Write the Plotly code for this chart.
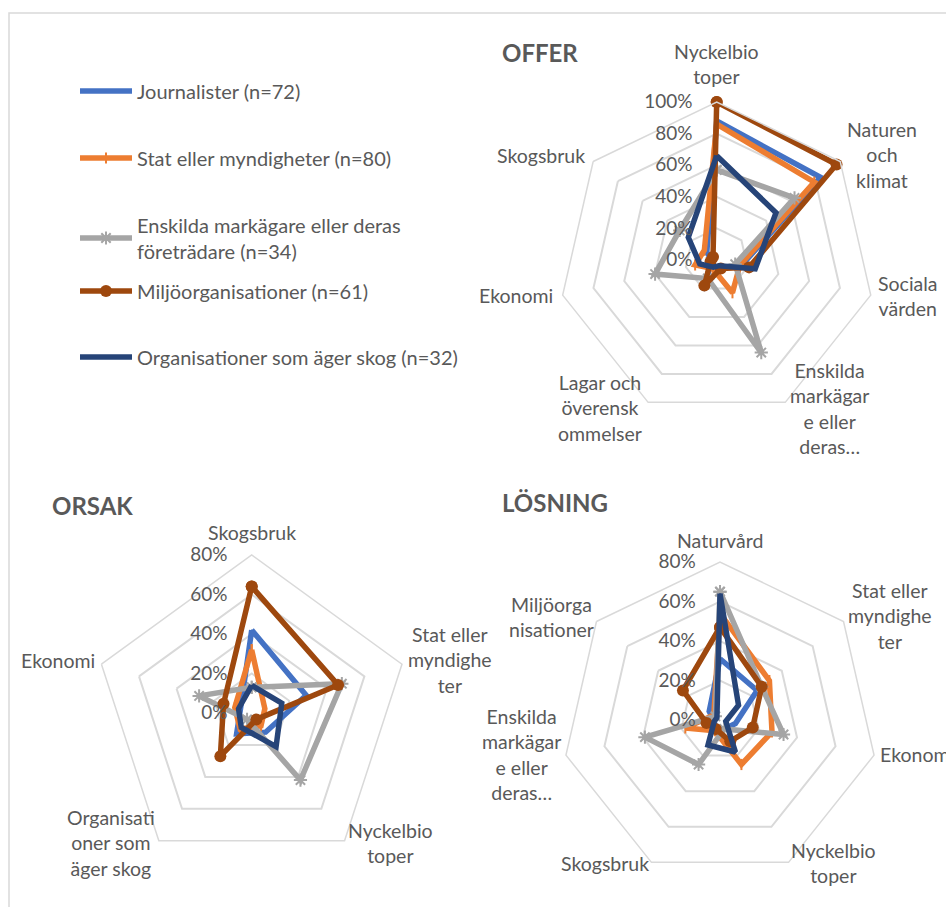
import plotly.graph_objects as go

# ---------------- data ----------------
series_names = [
    "Journalister (n=72)",
    "Stat eller myndigheter (n=80)",
    "Enskilda markägare eller deras<br>företrädare (n=34)",
    "Miljöorganisationer (n=61)",
    "Organisationer som äger skog (n=32)",
]

offer_categories = ["Nyckelbiotoper", "Naturen och klimat", "Sociala värden",
                    "Enskilda markägare eller deras…", "Lagar och överenskommelser",
                    "Ekonomi", "Skogsbruk"]
offer_labels = ["Nyckelbio<br>toper", "Naturen<br>och<br>klimat", "Sociala<br>värden",
                "Enskilda<br>markägar<br>e eller<br>deras…", "Lagar och<br>överensk<br>ommelser",
                "Ekonomi", "Skogsbruk"]
offer_journalister = [88, 84, 16, 5, 21, 3, 8]
offer_stat = [86, 79, 15, 23, 6, 14, 10]
offer_enskilda = [57, 63, 12, 65, 13, 40, 30]
offer_miljo = [100, 97, 21, 6, 18, 4, 3]
offer_org = [66, 48, 25, 4, 5, 11, 23]

orsak_categories = ["Skogsbruk", "Stat eller myndigheter", "Nyckelbiotoper",
                    "Organisationer som äger skog", "Ekonomi"]
orsak_labels = ["Skogsbruk", "Stat eller<br>myndighe<br>ter", "Nyckelbio<br>toper",
                "Organisati<br>oner som<br>äger skog", "Ekonomi"]
orsak_journalister = [42, 29, 12, 13, 6]
orsak_stat = [32, 7, 8, 10, 9]
orsak_enskilda = [13, 48, 42, 4, 28]
orsak_miljo = [64, 46, 4, 27, 15]
orsak_org = [14, 16, 21, 9, 7]

losning_categories = ["Naturvård", "Stat eller myndigheter", "Ekonomi", "Nyckelbiotoper",
                      "Skogsbruk", "Enskilda markägare eller deras…", "Miljöorganisationer"]
losning_labels = ["Naturvård", "Stat eller<br>myndighe<br>ter", "Ekonomi", "Nyckelbio<br>toper",
                  "Skogsbruk", "Enskilda<br>markägar<br>e eller<br>deras…", "Miljöorga<br>nisationer"]
losning_journalister = [31, 24, 8, 5, 5, 3, 7]
losning_stat = [54, 32, 27, 25, 6, 18, 4]
losning_enskilda = [65, 27, 33, 5, 25, 39, 3]
losning_miljo = [47, 27, 17, 12, 5, 7, 24]
losning_org = [64, 12, 3, 18, 14, 3, 2]

# ---------------- layout / styles ----------------
W, H = 946, 907
FONT = "Lato"
TXT = "#595959"
GRID = "#D9D9D9"
colors = ["#4472C4", "#ED7D31", "#A5A5A5", "#9E480E", "#264478"]
markers = [
    dict(size=1, symbol="circle"),
    dict(size=8, symbol="line-ns", line=dict(width=2, color="#ED7D31")),
    dict(size=11, symbol="asterisk", line=dict(width=2, color="#A5A5A5")),
    dict(size=12, symbol="circle"),
    dict(size=1, symbol="circle"),
]

# pixel centres of the category-label blocks around each radar
offer_label_pos = [(716, 64), (882, 155), (908, 296), (829, 408), (600, 408), (516, 295), (541, 155)]
orsak_label_pos = [(251.5, 532), (450, 660), (390, 843), (111, 843), (58, 660)]
losning_label_pos = [(720, 540), (890, 616), (917, 754), (833, 863), (605, 863), (521, 754), (551, 617)]

fig = go.Figure()

charts = [
    ("polar", offer_categories, offer_labels, offer_label_pos,
     [offer_journalister, offer_stat, offer_enskilda, offer_miljo, offer_org], True),
    ("polar2", orsak_categories, orsak_labels, orsak_label_pos,
     [orsak_journalister, orsak_stat, orsak_enskilda, orsak_miljo, orsak_org], False),
    ("polar3", losning_categories, losning_labels, losning_label_pos,
     [losning_journalister, losning_stat, losning_enskilda, losning_miljo, losning_org], False),
]
legend_ids = ["legend", "legend2", "legend3", "legend4", "legend5"]

for subplot, cats, labels, lpos, series, show in charts:
    for i, vals in enumerate(series):
        fig.add_trace(go.Scatterpolar(
            r=list(vals) + [vals[0]],
            theta=list(cats) + [cats[0]],
            mode="lines+markers",
            name=series_names[i],
            line=dict(color=colors[i], width=5.5),
            marker=dict(color=colors[i], **markers[i]),
            subplot=subplot,
            showlegend=show,
            legend=legend_ids[i],
        ))
    for lab, (lx, ly) in zip(labels, lpos):
        fig.add_annotation(text=lab, x=lx / W, y=1 - ly / H, xref="paper", yref="paper",
                           xanchor="center", yanchor="middle", align="center", showarrow=False,
                           font=dict(family=FONT, size=19.5, color=TXT))


def px_domain(cx, cy, r):
    return dict(x=[(cx - r) / W, (cx + r) / W], y=[1 - (cy + r) / H, 1 - (cy - r) / H])


def polar_layout(cx, cy, rmax, cats):
    return dict(
        domain=px_domain(cx, cy, 158),
        bgcolor="white",
        gridshape="linear",
        radialaxis=dict(range=[0, rmax], dtick=20, ticksuffix="%", angle=90, tickangle=90,
                        side="counterclockwise", showline=False, showgrid=True,
                        gridcolor=GRID, gridwidth=1.5, ticks="outside", ticklen=17,
                        tickcolor="rgba(0,0,0,0)",
                        tickfont=dict(family=FONT, size=19, color=TXT)),
        angularaxis=dict(type="category", categoryarray=cats,
                         direction="clockwise", rotation=90, showgrid=False,
                         showline=True, linecolor=GRID, linewidth=1.5, ticks="",
                         showticklabels=False),
    )


fig.update_layout(
    width=W, height=H,
    margin=dict(l=0, r=0, t=0, b=0),
    paper_bgcolor="white",
    font=dict(family=FONT, color=TXT),
    polar=polar_layout(716.7, 260, 100, offer_categories),
    polar2=polar_layout(251.7, 713, 80, orsak_categories),
    polar3=polar_layout(720, 720, 80, losning_categories),
)

legend_y = [91, 158, 238, 291, 357]
for lid, ly in zip(legend_ids, legend_y):
    fig.update_layout({lid: dict(x=75 / W, y=1 - ly / H, xanchor="left", yanchor="middle",
                                 bgcolor="rgba(0,0,0,0)", borderwidth=0, itemwidth=52,
                                 font=dict(family=FONT, size=20, color=TXT))})

titles = [("OFFER", 500, 52), ("ORSAK", 50, 505), ("LÖSNING", 500, 503)]
for txt, x, y in titles:
    fig.add_annotation(text="<b>%s</b>" % txt, x=x / W, y=1 - y / H, xref="paper", yref="paper",
                       xanchor="left", yanchor="middle", showarrow=False,
                       font=dict(family=FONT, size=24, color=TXT))

fig.add_shape(type="rect", xref="paper", yref="paper", x0=9 / W, x1=1.05, y0=-0.05, y1=1 - 13 / H,
              line=dict(color=GRID, width=1.5), fillcolor="rgba(0,0,0,0)", layer="below")

fig.write_html("out.html", config={"displayModeBar": False},
               post_script="document.body.style.margin='0px';")
